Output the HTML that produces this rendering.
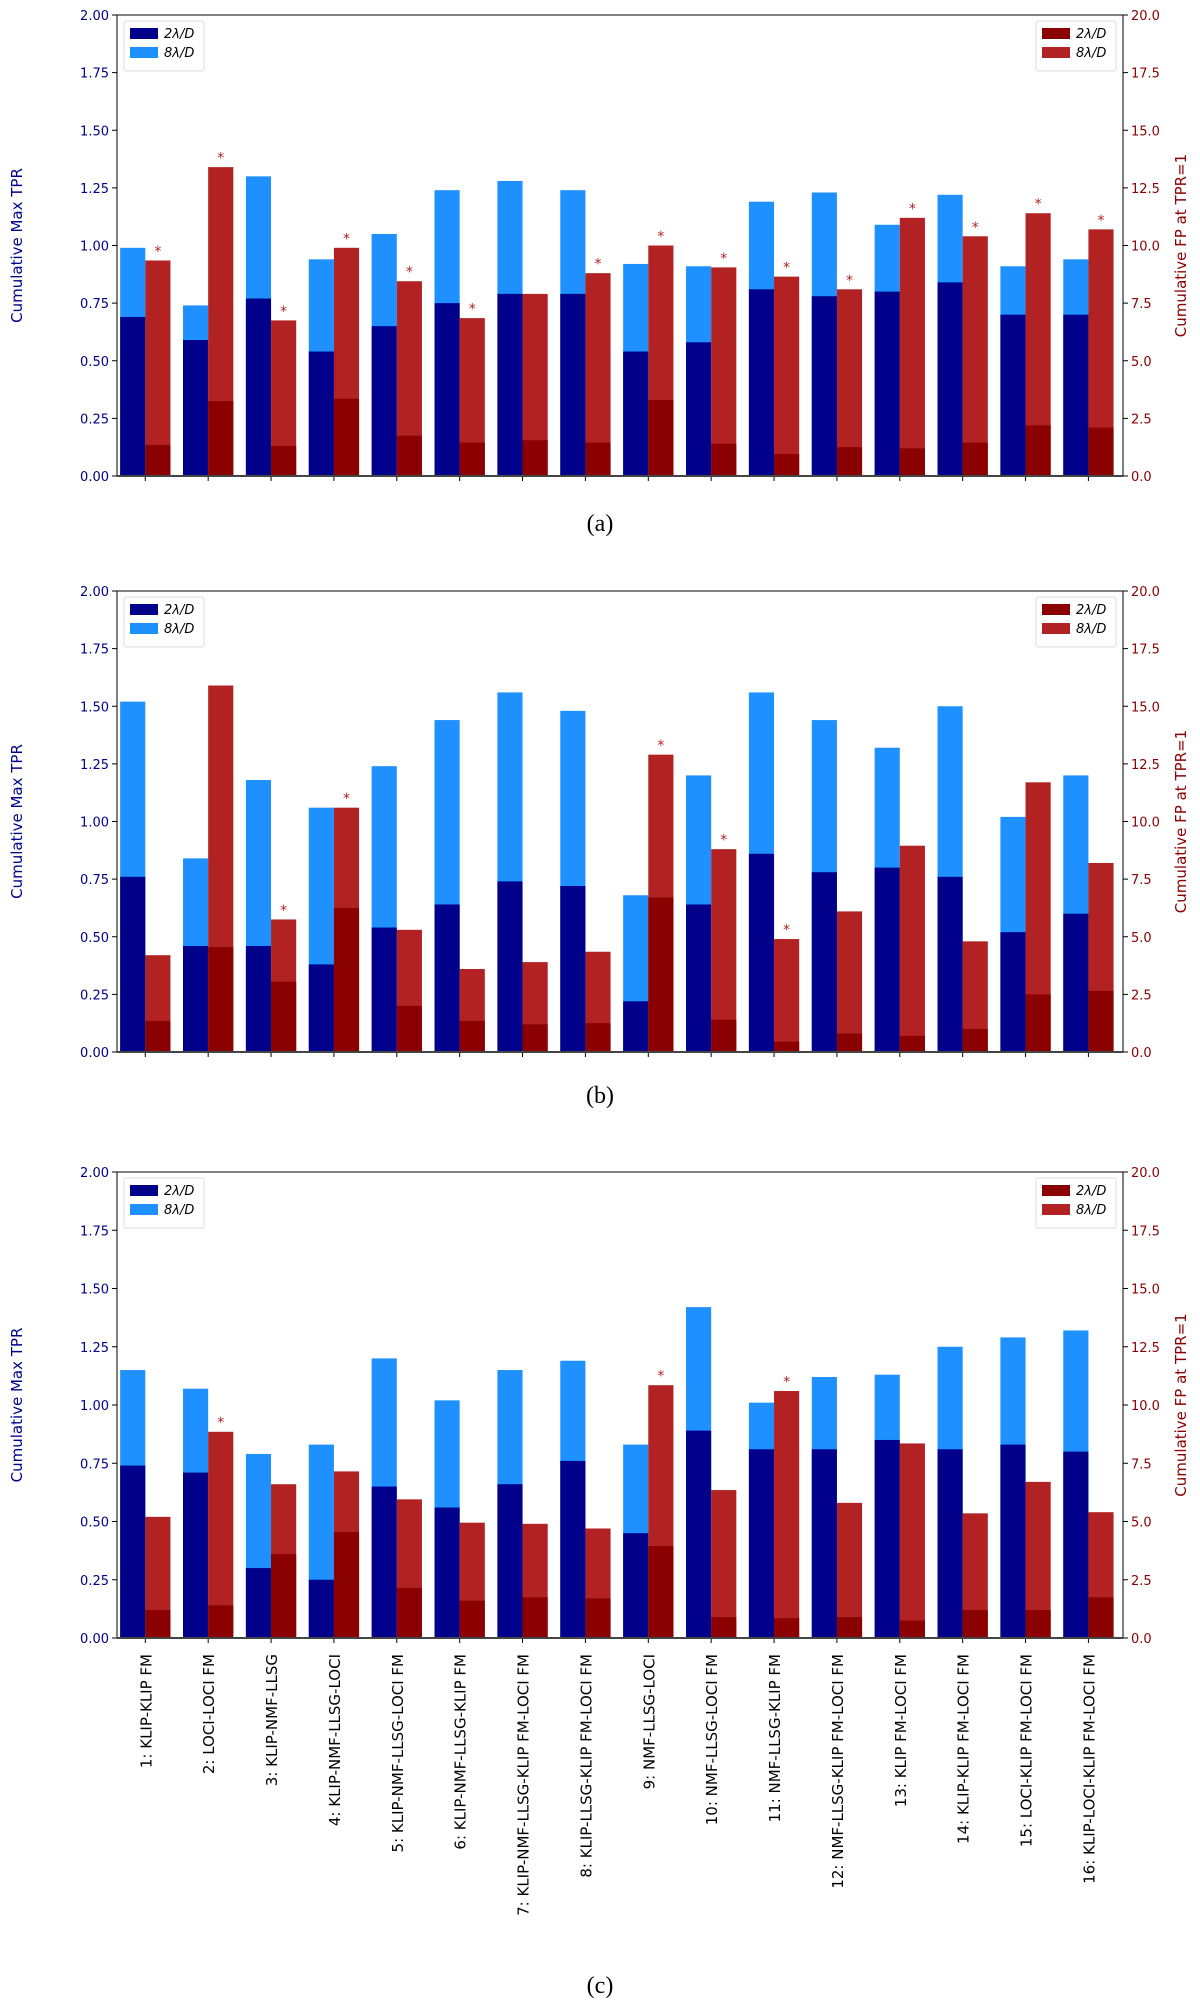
<!DOCTYPE html>
<html><head><meta charset="utf-8"><style>
body{margin:0;background:#fff;}
svg{display:block;}
text{font-family:"DejaVu Sans","Liberation Sans",sans-serif;}
text.cap{font-family:"Liberation Serif",serif;}
</style></head><body>
<svg id="chart" width="1200" height="2004" viewBox="0 0 1200 2004" xmlns="http://www.w3.org/2000/svg"></svg>
<script>
const categories = ["1: KLIP-KLIP FM","2: LOCI-LOCI FM","3: KLIP-NMF-LLSG","4: KLIP-NMF-LLSG-LOCI","5: KLIP-NMF-LLSG-LOCI FM","6: KLIP-NMF-LLSG-KLIP FM","7: KLIP-NMF-LLSG-KLIP FM-LOCI FM","8: KLIP-LLSG-KLIP FM-LOCI FM","9: NMF-LLSG-LOCI","10: NMF-LLSG-LOCI FM","11: NMF-LLSG-KLIP FM","12: NMF-LLSG-KLIP FM-LOCI FM","13: KLIP FM-LOCI FM","14: KLIP-KLIP FM-LOCI FM","15: LOCI-KLIP FM-LOCI FM","16: KLIP-LOCI-KLIP FM-LOCI FM"];
const leftTicks = ["0.00","0.25","0.50","0.75","1.00","1.25","1.50","1.75","2.00"];
const rightTicks = ["0.0","2.5","5.0","7.5","10.0","12.5","15.0","17.5","20.0"];
// panel (a)
const aTpr8 = [0.99,0.74,1.30,0.94,1.05,1.24,1.28,1.24,0.92,0.91,1.19,1.23,1.09,1.22,0.91,0.94];
const aTpr2 = [0.69,0.59,0.77,0.54,0.65,0.75,0.79,0.79,0.54,0.58,0.81,0.78,0.80,0.84,0.70,0.70];
const aFp8 = [9.35,13.4,6.75,9.9,8.45,6.85,7.9,8.8,10.0,9.05,8.65,8.1,11.2,10.4,11.4,10.7];
const aFp2 = [1.35,3.25,1.3,3.35,1.75,1.45,1.55,1.45,3.3,1.4,0.95,1.25,1.2,1.45,2.2,2.1];
const aStars = [1,1,1,1,1,1,0,1,1,1,1,1,1,1,1,1];
// panel (b)
const bTpr8 = [1.52,0.84,1.18,1.06,1.24,1.44,1.56,1.48,0.68,1.20,1.56,1.44,1.32,1.50,1.02,1.20];
const bTpr2 = [0.76,0.46,0.46,0.38,0.54,0.64,0.74,0.72,0.22,0.64,0.86,0.78,0.80,0.76,0.52,0.60];
const bFp8 = [4.2,15.9,5.75,10.6,5.3,3.6,3.9,4.35,12.9,8.8,4.9,6.1,8.95,4.8,11.7,8.2];
const bFp2 = [1.35,4.55,3.05,6.25,2.0,1.35,1.2,1.25,6.7,1.4,0.45,0.8,0.7,1.0,2.5,2.65];
const bStars = [0,0,1,1,0,0,0,0,1,1,1,0,0,0,0,0];
// panel (c)
const cTpr8 = [1.15,1.07,0.79,0.83,1.20,1.02,1.15,1.19,0.83,1.42,1.01,1.12,1.13,1.25,1.29,1.32];
const cTpr2 = [0.74,0.71,0.30,0.25,0.65,0.56,0.66,0.76,0.45,0.89,0.81,0.81,0.85,0.81,0.83,0.80];
const cFp8 = [5.2,8.85,6.6,7.15,5.95,4.95,4.9,4.7,10.85,6.35,10.6,5.8,8.35,5.35,6.7,5.4];
const cFp2 = [1.2,1.4,3.6,4.55,2.15,1.6,1.75,1.7,3.95,0.9,0.85,0.9,0.75,1.2,1.2,1.75];
const cStars = [0,1,0,0,0,0,0,0,1,0,1,0,0,0,0,0];

const NS="http://www.w3.org/2000/svg";
const svg=document.getElementById('chart');
function mk(tag,attrs,parent){const e=document.createElementNS(NS,tag);for(const k in attrs)e.setAttribute(k,attrs[k]);(parent||svg).appendChild(e);return e;}
const X0=117,X1=1123,XMIN=-0.45,XMAX=15.55;
const xs=v=>X0+(v-XMIN)/(XMAX-XMIN)*(X1-X0);
const panels=[
 {id:'a',top:15,bot:476,cap:523,t8:aTpr8,t2:aTpr2,f8:aFp8,f2:aFp2,st:aStars,labels:false},
 {id:'b',top:591,bot:1052,cap:1095,t8:bTpr8,t2:bTpr2,f8:bFp8,f2:bFp2,st:bStars,labels:false},
 {id:'c',top:1172,bot:1638,cap:1985,t8:cTpr8,t2:cTpr2,f8:cFp8,f2:cFp2,st:cStars,labels:true}];
panels.forEach(p=>{
 const g=mk('g',{});
 
 
 const yl=v=>p.bot-v/2*(p.bot-p.top);
 const yr=v=>p.bot-v/20*(p.bot-p.top);
 const bw=xs(0.4)-xs(0);
 categories.forEach((c,i)=>{
  const r1=mk('rect',{x:xs(i-0.4),y:yl(p.t8[i]),width:bw,height:yl(0)-yl(p.t8[i]),fill:'#1e90ff'},g);
  
  const r2=mk('rect',{x:xs(i-0.4),y:yl(p.t2[i]),width:bw,height:yl(0)-yl(p.t2[i]),fill:'#00008b'},g);
  
  const r3=mk('rect',{x:xs(i),y:yr(p.f8[i]),width:bw,height:yr(0)-yr(p.f8[i]),fill:'#b22222'},g);
  
  const r4=mk('rect',{x:xs(i),y:yr(p.f2[i]),width:bw,height:yr(0)-yr(p.f2[i]),fill:'#8b0000'},g);
  
  if(p.st[i]){const s=mk('text',{x:xs(i+0.2),y:yr(p.f8[i]+0.5)+7,'text-anchor':'middle','font-size':14,fill:'#b22222'},g);s.textContent='*';
   }
  mk('line',{x1:xs(i),x2:xs(i),y1:p.bot,y2:p.bot+5,stroke:'#000','stroke-width':1},g);
  if(p.labels){const t=mk('text',{x:0,y:0,transform:`translate(${xs(i)+6},${p.bot+16}) rotate(-90)`,'text-anchor':'end','font-size':15,fill:'#000'},g);t.textContent=c;
   }
 });
 mk('rect',{x:X0,y:p.top,width:X1-X0,height:p.bot-p.top,fill:'none',stroke:'#000','stroke-width':1},g);
 mk('line',{x1:X0,x2:X1,y1:p.bot,y2:p.bot,stroke:'#444','stroke-width':2},g);
 leftTicks.forEach((t,k)=>{const y=yl(k*0.25);mk('line',{x1:X0-5,x2:X0,y1:y,y2:y,stroke:'#000'},g);
  const e=mk('text',{x:X0-8,y:y+5,'text-anchor':'end','font-size':13,fill:'#00008b'},g);e.textContent=t;});
 rightTicks.forEach((t,k)=>{const y=yr(k*2.5);mk('line',{x1:X1,x2:X1+5,y1:y,y2:y,stroke:'#000'},g);
  const e=mk('text',{x:X1+8,y:y+5,'font-size':13,fill:'#8b0000'},g);e.textContent=t;});
 const my=(p.top+p.bot)/2;
 const lt=mk('text',{transform:`translate(22,${my}) rotate(-90)`,'text-anchor':'middle','font-size':15,fill:'#00008b'},g);lt.textContent='Cumulative Max TPR';
 
 const rt=mk('text',{transform:`translate(1186,${my}) rotate(-90)`,'text-anchor':'middle','font-size':15,fill:'#8b0000'},g);rt.textContent='Cumulative FP at TPR=1';
 
 [[X0+7,'#00008b','#1e90ff','left'],[X1-87,'#8b0000','#b22222','right']].forEach(L=>{
  const lg=mk('g',{},g);
  mk('rect',{x:L[0],y:p.top+6,width:80,height:50,fill:'#fff',stroke:'#ddd',rx:2},lg);
  [[L[1],'2λ/D'],[L[2],'8λ/D']].forEach((e,j)=>{
   mk('rect',{x:L[0]+6,y:p.top+13+j*19,width:28,height:11,fill:e[0]},lg);
   const tx=mk('text',{x:L[0]+40,y:p.top+23+j*19,'font-size':13,'font-style':'italic',fill:'#000'},lg);tx.textContent=e[1];
  });
 });
 const cap=mk('text',{x:600,y:p.cap+8,'text-anchor':'middle','font-size':24,fill:'#000','class':'cap'},g);cap.textContent='('+p.id+')';
 
});
</script>
</body></html>
